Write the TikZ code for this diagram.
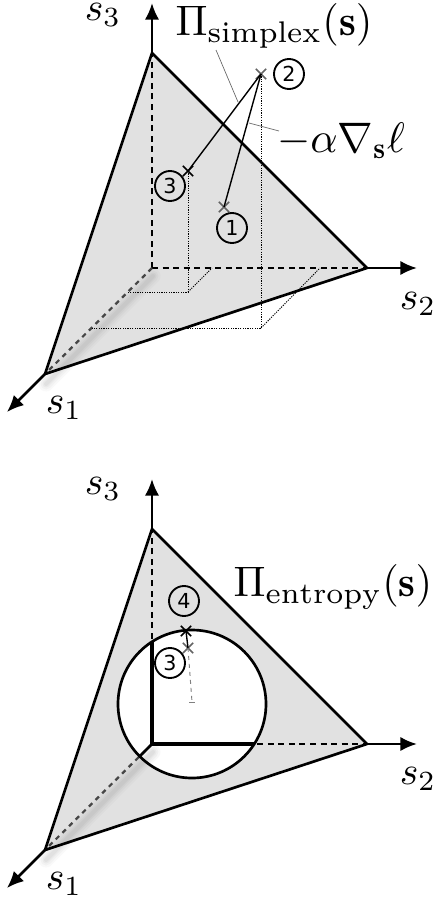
\documentclass[tikz,border=0pt]{standalone}
\usepackage{amsmath}
\usepackage{fontspec}
\usepackage{tikz}
\usetikzlibrary{arrows.meta, shapes.misc}
\newfontfamily\numfont{DejaVu Sans}
\definecolor{simplexfill}{RGB}{225,225,225}
\definecolor{lowdash}{RGB}{70,70,70}
\definecolor{faded}{RGB}{100,100,100}
\tikzset{
  edgeline/.style ={line width=2pt, line join=round},
  innerline/.style={line width=2.8pt, line cap=round},
  axisarr/.style  ={-{Latex[length=4.4mm, width=3.8mm]}, line width=1.9pt},
  hiddenline/.style={line width=2pt, dash pattern=on 4.5pt off 3.4pt},
  lowline/.style  ={line width=1.7pt, color=lowdash, dash pattern=on 3.6pt off 3.4pt},
  projline/.style ={line width=0.7pt, dash pattern=on 0.9pt off 0.9pt},
  stepline/.style ={line width=1.05pt},
  leader/.style   ={line width=0.5pt, color=faded},
  tailline/.style ={line width=0.7pt, color=gray},
  glowline/.style ={gray, line cap=round},
  xpoint/.style   ={cross out, draw=black, line width=1.2pt, minimum size=6.5pt, inner sep=0pt},
  xfaded/.style   ={xpoint, draw=faded},
  stepnum/.style  ={circle, draw, line width=1.4pt, minimum size=22.5pt, inner sep=0pt,
                    font=\numfont\fontsize{15.5}{15.5}\selectfont},
  mathlabel/.style={transform shape, scale=3.2, inner sep=0pt},
  axislabel/.style={mathlabel, scale=0.93},
}
\begin{document}
\begin{tikzpicture}[x=0.75pt, y=-0.75pt]
\useasboundingbox (0,0) rectangle (436,900);
\coordinate (ball) at (192,704);
% both simplexes
\foreach \y in {0, 476} {
  \coordinate (org) at (152,268+\y);
  \coordinate (v1) at (45,374+\y);
  \coordinate (v2) at (367,268+\y);
  \coordinate (v3) at (152,53+\y);
  \coordinate (t1) at (7,412+\y);
  \coordinate (t2) at (417,268+\y);
  \coordinate (t3) at (152,3+\y);
  \coordinate (g1) at (153,276+\y);
  \coordinate (g2) at (46,384+\y);
  \fill[simplexfill] (v1) -- (v2) -- (v3) -- cycle;
  \ifnum\y>0 \fill[white] (ball) circle[radius=74]; \fi
  \foreach \w/\q in {15/0.05, 11/0.06, 7/0.07, 4/0.08} {
    \draw[glowline, line width=\w*0.75pt, opacity=\q] (g1) -- (g2);
  }
  \draw[hiddenline] (org) -- (v3);
  \draw[hiddenline] (org) -- (v2);
  \draw[lowline] (org) -- (v1);
  \draw[edgeline] (v1) -- (v2) -- (v3) -- cycle;
  \draw[axisarr] (v1) -- (t1);
  \draw[axisarr] (v2) -- (t2);
  \draw[axisarr] (v3) -- (t3);
  \ifnum\y>0
    \begin{scope}
      \clip (ball) circle[radius=74];
      \draw[innerline] (v3) -- (org) -- (v2);
      \draw[edgeline] (org) -- (v1);
    \end{scope}
    \draw[edgeline] (ball) circle[radius=74];
  \fi
}
% top: points and projections
\node[xfaded] (pa1) at (224,207) {};
\node[xfaded] (pa2) at (261,74) {};
\node[xpoint] (pa3) at (188,171) {};
\coordinate (fa2) at (261,328);
\coordinate (la2) at (92,328);
\coordinate (ra2) at (320,268);
\coordinate (fa3) at (188,292);
\coordinate (la3) at (128,292);
\coordinate (ra3) at (212,268);
\draw[projline] (pa2.center) -- (fa2) -- (la2);
\draw[projline] (fa2) -- (ra2);
\draw[projline] (pa3.center) -- (fa3) -- (la3);
\draw[projline] (fa3) -- (ra3);
\draw[stepline] (pa2.center) -- (pa1.center);
\draw[stepline] (pa2.center) -- (pa3.center);
\node[stepnum] (na1) at (232,228) {1};
\node[stepnum] (na2) at (289,74) {2};
\node[stepnum] (na3) at (170,186) {3};
% bottom: points
\node[xfaded] (pb3) at (188,648) {};
\node[xpoint] (pb4) at (186,631) {};
\coordinate (pb0) at (192,702);
\coordinate (tickl) at (189,702);
\coordinate (tickr) at (195,702);
\draw[stepline] (pb4.center) -- (pb3.center);
\draw[tailline, dashed] (pb3.center) -- (pb0);
\draw[tailline] (tickl) -- (tickr);
\node[stepnum] (nb3) at (170,663) {3};
\node[stepnum] (nb4) at (184,601) {4};
% labels
\node[axislabel] (sa3) at (103,15) {$s_3$};
\node[axislabel] (sa2) at (418,304) {$s_2$};
\node[axislabel] (sa1) at (64,408) {$s_1$};
\node[axislabel] (sb3) at (103,489) {$s_3$};
\node[axislabel] (sb2) at (418,779) {$s_2$};
\node[axislabel] (sb1) at (64,884) {$s_1$};
\node[mathlabel] (proj) at (274,26) {$\Pi_{\mathrm{simplex}}(\mathbf{s})$};
\node[mathlabel] (grad) at (341,141) {$-\alpha\nabla_{\mathbf{s}}\ell$};
\node[mathlabel] (entr) at (333,587) {$\Pi_{\mathrm{entropy}}(\mathbf{s})$};
\coordinate (ma) at (238,102);
\coordinate (mb) at (249,123);
\coordinate (proja) at (216,50);
\coordinate (grada) at (279,131);
\draw[leader] (proja) -- (ma);
\draw[leader] (grada) -- (mb);
\end{tikzpicture}
\end{document}
